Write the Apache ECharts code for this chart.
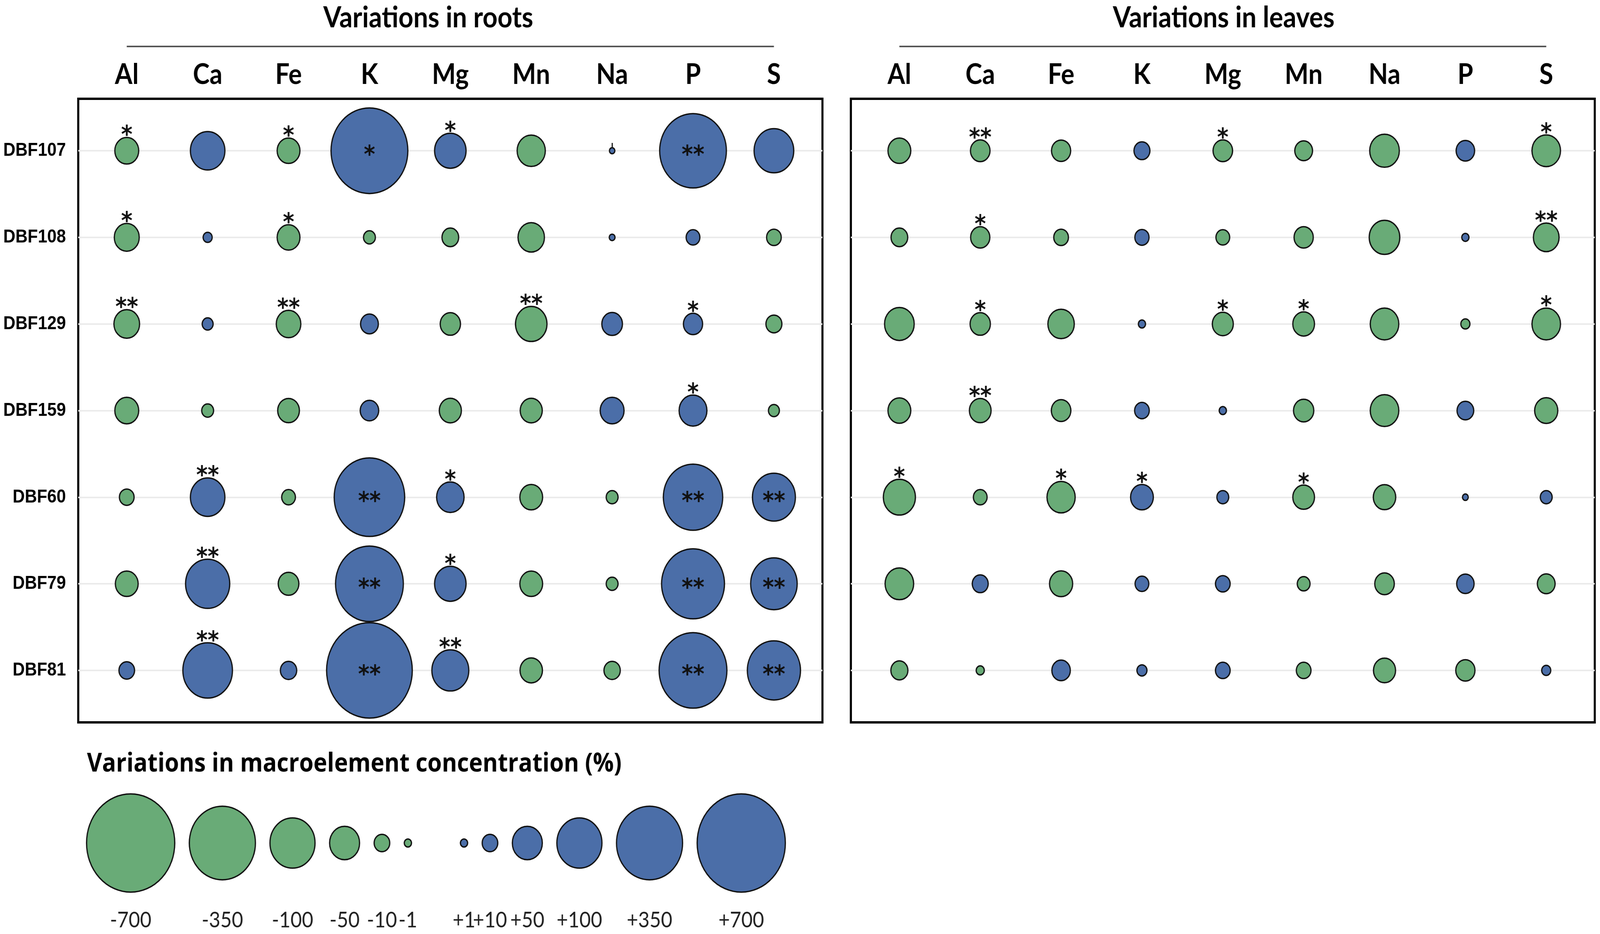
<!DOCTYPE html>
<html>
<head>
<meta charset="utf-8">
<script src="https://cdn.jsdelivr.net/npm/echarts@6/dist/echarts.min.js"></script>
<style>
html,body{margin:0;padding:0;background:#fff;overflow:hidden;}
#chart{width:4562px;height:2392px;transform-origin:0 0;}
</style>
</head>
<body>
<div id="chart"></div>
<script>
// ---------- categories ----------
const elements = ['Al', 'Ca', 'Fe', 'K', 'Mg', 'Mn', 'Na', 'P', 'S'];
const strains = ['DBF107', 'DBF108', 'DBF129', 'DBF159', 'DBF60', 'DBF79', 'DBF81'];

// ---------- variations in roots (%) ----------
const roots_DBF107 = [-33, 65, -30, 520, 55, -45, 0.5, 360, 82];
const roots_DBF108 = [-36, 3, -30, -6, -13, -40, 0.6, 8, -9];
const roots_DBF129 = [-38, 5, -35, 16, -23, -55, 24, 20, -11];
const roots_DBF159 = [-33, -6, -27, 18, -28, -28, 33, 44, -5];
const roots_DBF60  = [-9, 65, -8, 420, 43, -30, -6, 270, 93];
const roots_DBF79  = [-30, 97, -24, 377, 55, -30, -6, 312, 117];
const roots_DBF81  = [10, 154, 12, 660, 73, -29, -12, 377, 196];

// ---------- variations in leaves (%) ----------
const leaves_DBF107 = [-30, -21, -20, 11, -21, -16, -49, 18, -46];
const leaves_DBF108 = [-13, -20, -9, 8.5, -8, -20, -52, 1, -38];
const leaves_DBF129 = [-49, -23, -40, 1, -25, -27, -46, -3, -46];
const leaves_DBF159 = [-30, -27, -21, 9, 1, -23, -46, 13, -31];
const leaves_DBF60  = [-57, -8, -45, 30, 6, -27, -29, 0.6, 6];
const leaves_DBF79  = [-46, 11, -31, 8, 9, -7, -21, 15, -16];
const leaves_DBF81  = [-14, -2, 18, 4, 9, -9, -28, -20, 3];

// ---------- significance ----------
const rootsSig_DBF107 = ['*', '', '*', '*', '*', '', '', '**', ''];
const rootsSig_DBF108 = ['*', '', '*', '', '', '', '', '', ''];
const rootsSig_DBF129 = ['**', '', '**', '', '', '**', '', '*', ''];
const rootsSig_DBF159 = ['', '', '', '', '', '', '', '*', ''];
const rootsSig_DBF60  = ['', '**', '', '**', '*', '', '', '**', '**'];
const rootsSig_DBF79  = ['', '**', '', '**', '*', '', '', '**', '**'];
const rootsSig_DBF81  = ['', '**', '', '**', '**', '', '', '**', '**'];

const leavesSig_DBF107 = ['', '**', '', '', '*', '', '', '', '*'];
const leavesSig_DBF108 = ['', '*', '', '', '', '', '', '', '**'];
const leavesSig_DBF129 = ['', '*', '', '', '*', '*', '', '', '*'];
const leavesSig_DBF159 = ['', '**', '', '', '', '', '', '', ''];
const leavesSig_DBF60  = ['*', '', '*', '*', '', '*', '', '', ''];
const leavesSig_DBF79  = ['', '', '', '', '', '', '', '', ''];
const leavesSig_DBF81  = ['', '', '', '', '', '', '', '', ''];

// cells whose stars are printed inside the bubble
const rootsStarsInside = [['DBF107','K'],['DBF107','P'],['DBF60','K'],['DBF60','P'],['DBF60','S'],
  ['DBF79','K'],['DBF79','P'],['DBF79','S'],['DBF81','K'],['DBF81','P'],['DBF81','S']];

// ---------- size legend ----------
const legendValues = [-700, -350, -100, -50, -10, -1, 1, 10, 50, 100, 350, 700];
const legendLabels = ['-700', '-350', '-100', '-50', '-10', '-1', '+1', '+10', '+50', '+100', '+350', '+700'];

// ---------- page fit (browser viewport may be narrower than the design) ----------
const DESIGN_W = 4562, DESIGN_H = 2392;
const dom = document.getElementById('chart');
dom.style.transform = 'scale(' + (window.innerWidth / DESIGN_W) + ',' + (window.innerHeight / DESIGN_H) + ')';

// ---------- styling ----------
const GREEN = '#69ab77';
const BLUE = '#4b6ea8';
const BORDER = 3.5;
// size scale (|variation| -> outer diameter in px)
const sizeStops = [[0, 14], [1, 24], [10, 48], [50, 89], [100, 132], [350, 192], [700, 255]];
function bubbleDiameter(v) {
  const a = Math.abs(v);
  for (let i = 1; i < sizeStops.length; i++) {
    const [v0, d0] = sizeStops[i - 1], [v1, d1] = sizeStops[i];
    if (a <= v1) return d0 + (a - v0) * (d1 - d0) / (v1 - v0);
  }
  return sizeStops[sizeStops.length - 1][1];
}
const symbolSize = val => bubbleDiameter(val[2]) - BORDER;

const rootRows = [roots_DBF107, roots_DBF108, roots_DBF129, roots_DBF159, roots_DBF60, roots_DBF79, roots_DBF81];
const rootSigs = [rootsSig_DBF107, rootsSig_DBF108, rootsSig_DBF129, rootsSig_DBF159, rootsSig_DBF60, rootsSig_DBF79, rootsSig_DBF81];
const leafRows = [leaves_DBF107, leaves_DBF108, leaves_DBF129, leaves_DBF159, leaves_DBF60, leaves_DBF79, leaves_DBF81];
const leafSigs = [leavesSig_DBF107, leavesSig_DBF108, leavesSig_DBF129, leavesSig_DBF159, leavesSig_DBF60, leavesSig_DBF79, leavesSig_DBF81];

const STAR_FONT = {fontFamily: 'DejaVu Sans', fontWeight: 'bold', fontSize: 62, color: '#111'};

function panelSeries(rows, sigs, inside, idx) {
  const data = [];
  rows.forEach((row, r) => row.forEach((v, c) => {
    const s = sigs[r][c];
    const isIn = inside.some(p => p[0] === strains[r] && p[1] === elements[c]);
    let label = {show: false};
    if (s) {
      label = isIn
        ? Object.assign({show: true, position: 'inside', offset: [0, 14], formatter: s}, STAR_FONT)
        : Object.assign({show: true, position: 'top', distance: -30, formatter: s}, STAR_FONT);
    }
    data.push({value: [c, r, v], label});
  }));
  return {
    type: 'scatter', xAxisIndex: idx, yAxisIndex: idx, data,
    symbol: 'circle', symbolSize,
    itemStyle: {color: p => (p.value[2] < 0 ? GREEN : BLUE), borderColor: '#111', borderWidth: BORDER, opacity: 1},
    emphasis: {disabled: true}, z: 3
  };
}

// legend layout: bubbles packed left to right with a fixed gap
const LEG_LEFT = 245, LEG_GAP = 38, LEG_MID_GAP = 136;
const legendX = [];
(function () {
  let cur = LEG_LEFT;
  legendValues.forEach((v, i) => {
    const d = bubbleDiameter(v);
    if (i > 0) cur += (legendValues[i - 1] < 0 && v > 0) ? LEG_MID_GAP : LEG_GAP;
    legendX.push(cur + d / 2);
    cur += d;
  });
})();
function legendLabelFor(v) {
  let best = 0;
  legendX.forEach((x, i) => { if (Math.abs(x - v) < Math.abs(legendX[best] - v)) best = i; });
  return legendLabels[best];
}

const colIdx = elements.map((_, i) => i);
const rowIdx = strains.map((_, i) => i);
const HEAD_FONT = {fontFamily: 'Lato', fontWeight: 'bold', fontSize: 72, color: '#000'};

function xAxisFor(gridIndex) {
  return {
    type: 'value', gridIndex, position: 'top', min: -0.6, max: 8.6,
    axisLine: {show: false},
    axisTick: {show: true, customValues: colIdx, length: 20, lineStyle: {color: '#000', width: 3}},
    axisLabel: Object.assign({show: true, customValues: colIdx, margin: 25, formatter: v => elements[Math.round(v)]}, HEAD_FONT),
    splitLine: {show: false}
  };
}
function yAxisFor(gridIndex, showLabels) {
  return {
    type: 'value', gridIndex, min: -0.6, max: 6.6, inverse: true,
    axisLine: {show: false},
    axisTick: {show: showLabels, customValues: rowIdx, length: 18, lineStyle: {color: '#000', width: 3}},
    axisLabel: {show: showLabels, customValues: rowIdx, margin: 35, formatter: v => strains[Math.round(v)],
      fontFamily: 'Liberation Sans', fontWeight: 'bold', fontSize: 48, color: '#000'},
    splitLine: {show: true, lineStyle: {color: '#ebebeb', width: 4}}
  };
}

const chart = echarts.init(dom, null, {renderer: 'canvas', width: DESIGN_W, height: DESIGN_H});
chart.setOption({
  animation: false,
  backgroundColor: '#ffffff',
  grid: [
    {left: 223, top: 253, width: 2122, height: 1597, show: true, borderColor: '#000', borderWidth: 6, backgroundColor: 'transparent'},
    {left: 2426, top: 253, width: 2121, height: 1597, show: true, borderColor: '#000', borderWidth: 6, backgroundColor: 'transparent'},
    {left: 0, top: 2059, width: 4562, height: 200, show: false}
  ],
  xAxis: [
    xAxisFor(0),
    xAxisFor(1),
    {type: 'value', gridIndex: 2, position: 'bottom', min: 0, max: 4562,
      axisLine: {show: false}, axisTick: {show: false}, splitLine: {show: false},
      axisLabel: {show: true, customValues: legendX, margin: 70, formatter: v => legendLabelFor(v),
        fontFamily: 'Lato', fontSize: 56, color: '#222'}}
  ],
  yAxis: [
    yAxisFor(0, true),
    yAxisFor(1, false),
    {type: 'value', gridIndex: 2, min: -1, max: 1, show: false}
  ],
  series: [
    panelSeries(rootRows, rootSigs, rootsStarsInside, 0),
    panelSeries(leafRows, leafSigs, [], 1),
    {
      type: 'scatter', xAxisIndex: 2, yAxisIndex: 2,
      data: legendValues.map((v, i) => [legendX[i], 0, v]),
      symbol: 'circle', symbolSize,
      itemStyle: {color: p => (p.value[2] < 0 ? GREEN : BLUE), borderColor: '#111', borderWidth: BORDER, opacity: 1},
      emphasis: {disabled: true}
    }
  ]
});

// titles and header rules
const xL0 = chart.convertToPixel({xAxisIndex: 0}, 0), xL8 = chart.convertToPixel({xAxisIndex: 0}, 8);
const xR0 = chart.convertToPixel({xAxisIndex: 1}, 0), xR8 = chart.convertToPixel({xAxisIndex: 1}, 8);
chart.setOption({
  graphic: [
    {type: 'text', x: 1221, y: 46, style: {text: 'Variations in roots', textAlign: 'center', textVerticalAlign: 'middle', font: 'bold 74px Lato', fill: '#000'}},
    {type: 'text', x: 3489, y: 46, style: {text: 'Variations in leaves', textAlign: 'center', textVerticalAlign: 'middle', font: 'bold 74px Lato', fill: '#000'}},
    {type: 'line', shape: {x1: xL0, y1: 119, x2: xL8, y2: 119}, style: {stroke: '#555', lineWidth: 4}},
    {type: 'line', shape: {x1: xR0, y1: 119, x2: xR8, y2: 119}, style: {stroke: '#555', lineWidth: 4}},
    {type: 'text', x: 248, y: 1957, style: {text: 'Variations in macroelement concentration (%)', textAlign: 'left', textVerticalAlign: 'middle', font: 'bold 66px "Open Sans"', fill: '#000'}}
  ]
});
</script>
</body>
</html>
